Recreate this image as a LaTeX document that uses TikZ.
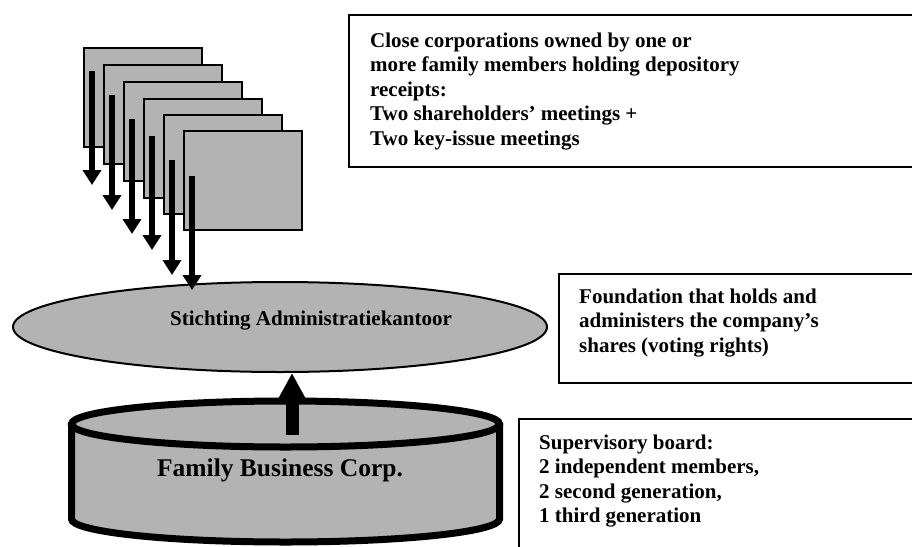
\documentclass[tikz,border=0pt]{standalone}
\usepackage{fontspec}
\setmainfont{Liberation Serif}
\usetikzlibrary{arrows.meta,shapes.geometric}
\definecolor{fillgray}{RGB}{179,179,179}
\begin{document}
\begin{tikzpicture}[x=1pt,y=-1pt,
  card/.style={draw=black, line width=2pt, fill=fillgray, minimum width=118pt, minimum height=99pt, inner sep=0pt, anchor=north west},
  infobox/.style={draw=black, line width=2pt},
  txt/.style={inner sep=0pt, font=\bfseries\fontsize{21}{24.5}\selectfont, anchor=base west},
  downarrow/.style={line width=6pt, -{Triangle[width=18pt,length=15pt]}},
  uparrow/.style={line width=13pt, -{Triangle[width=28pt,length=28pt]}},
  ]
\useasboundingbox (0,0) rectangle (912,546);
\clip (0,0) rectangle (912,546);

% information boxes
\draw[infobox] (349,15) rectangle (930,167);
\draw[infobox] (559,274) rectangle (930,383);
\draw[infobox] (519,419) rectangle (930,560);

\node[txt] (closecorp) at (370,47) {\begin{tabular}[t]{@{}l@{}}Close corporations owned by one or\\more family members holding depository\\receipts:\\Two shareholders’ meetings +\\Two key-issue meetings\end{tabular}};
\node[txt] (foundation) at (579,303) {\begin{tabular}[t]{@{}l@{}}Foundation that holds and\\administers the company’s\\shares (voting rights)\end{tabular}};
\node[txt] (board) at (539,449) {\begin{tabular}[t]{@{}l@{}}Supervisory board:\\2 independent members,\\2 second generation,\\1 third generation\end{tabular}};

% stack of cards
\node[card] (c1) at (83,47) {};
\node[card] (c2) at (103,64) {};
\node[card] (c3) at (123,81) {};
\node[card] (c4) at (143,98) {};
\node[card] (c5) at (163,114) {};
\node[card] (c6) at (183,130) {};

% foundation ellipse
\node[ellipse, draw=black, line width=2pt, fill=fillgray, minimum width=534pt, minimum height=90pt, inner sep=0pt] (sak) at (280,327) {};
\node[txt] (saklabel) at (170,325) {Stichting Administratiekantoor};

% arrows from the cards
\coordinate (s1) at (92,71);   \coordinate (t1) at (92,185);
\coordinate (s2) at (112,95);  \coordinate (t2) at (112,210);
\coordinate (s3) at (132,119); \coordinate (t3) at (132,234);
\coordinate (s4) at (152,136); \coordinate (t4) at (152,250);
\coordinate (s5) at (172,160); \coordinate (t5) at (172,275);
\coordinate (s6) at (192,176); \coordinate (t6) at (192,290);
\foreach \i in {1,...,6} \draw[downarrow] (s\i) -- (t\i);

% cylinder
\fill[fillgray] (71.5,424) -- (71.5,519) arc[start angle=180, end angle=0, x radius=214, y radius=23] -- (499.5,424) -- cycle;
\fill[fillgray] (285.5,424) ellipse[x radius=214, y radius=23];
\draw[line width=7pt] (71.5,424) -- (71.5,519) arc[start angle=180, end angle=0, x radius=214, y radius=23] -- (499.5,424);
\draw[line width=7pt] (285.5,424) ellipse[x radius=214, y radius=23];
\node[inner sep=0pt, anchor=base, font=\bfseries\fontsize{25.5}{30}\selectfont] (fbc) at (280,476) {Family Business Corp.};

\coordinate (cyltop) at (292,435);
\draw[uparrow] (cyltop) -- (cyltop |- sak.south);
\end{tikzpicture}
\end{document}
